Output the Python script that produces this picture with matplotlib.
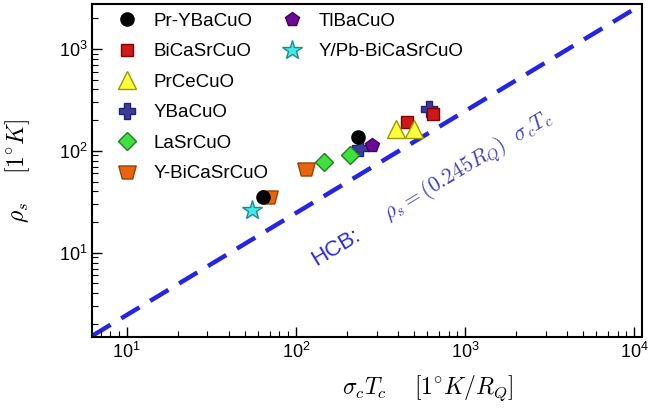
import numpy as np
import matplotlib
matplotlib.use("Agg")
import matplotlib.pyplot as plt
from matplotlib.lines import Line2D

plt.rcParams["font.family"] = ["Liberation Sans", "DejaVu Sans"]
plt.rcParams["mathtext.fontset"] = "cm"

# (sigma_c * Tc, rho_s)
ybco_x = [240, 610]
ybco_y = [106, 258]
bscco_x = [454, 647]
bscco_y = [194, 231]
prce_x = [391, 497]
prce_y = [163, 163]
ybscco_x = [69, 115]
ybscco_y = [35, 66]
prybco_x = [64, 233]
prybco_y = [35, 138]
lsco_x = [146, 208]
lsco_y = [78.5, 91.4]
tlba_x = [282]
tlba_y = [113]
ypb_x = [55]
ypb_y = [26]

hcb_coef = 0.245
xlim = (6.25, 11100)
ylim = (1.5, 2730)

trap = [(-1, 0.75), (1, 0.75), (0.6, -0.75), (-0.6, -0.75), (-1, 0.75)]

fig = plt.figure(figsize=(6.48, 4.11), dpi=100)
ax = fig.add_axes([0.1424, 0.1808, 0.8478, 0.8083])

# HCB line
xs = np.array(xlim)
ax.plot(xs, hcb_coef * xs, color="#2424e6", lw=3.2, dashes=(4.8, 2.8), zorder=1)

ms = 9.5
ax.plot(ybco_x, ybco_y, ls="none", marker="P", ms=ms + 2, mfc="#3b3b9e", mec="#22226e", zorder=3)
ax.plot(bscco_x, bscco_y, ls="none", marker="s", ms=ms - 0.5, mfc="#d01818", mec="#800000", zorder=4)
ax.plot(prce_x, prce_y, ls="none", marker="^", ms=ms + 3, mfc="#ffff40", mec="#9a9a00", zorder=5)
ax.plot(ybscco_x, ybscco_y, ls="none", marker=trap, ms=ms + 3, mfc="#e8650f", mec="#9a4000", zorder=3)
ax.plot(prybco_x, prybco_y, ls="none", marker="o", ms=ms, mfc="black", mec="black", zorder=4)
ax.plot(lsco_x, lsco_y, ls="none", marker="D", ms=ms - 0.5, mfc="#40e040", mec="#208020", zorder=5)
ax.plot(tlba_x, tlba_y, ls="none", marker="p", ms=ms + 1, mfc="#6a0a96", mec="#400060", zorder=5)
ax.plot(ypb_x, ypb_y, ls="none", marker="*", ms=ms + 5, mfc="#40e8e8", mec="#208a8a", zorder=6)

ax.set_xscale("log")
ax.set_yscale("log")
ax.set_xlim(*xlim)
ax.set_ylim(*ylim)

ax.tick_params(which="both", direction="in", top=False, right=False, labelsize=13)
ax.tick_params(which="major", length=7, width=1)
ax.tick_params(which="minor", length=4, width=0.8)
for s in ax.spines.values():
    s.set_linewidth(1.5)

ax.set_xlabel(r"$\sigma_c T_c \quad\ [1^{\circ}K/R_Q]$", fontsize=17)
ax.xaxis.set_label_coords(0.61, -0.11)
ax.set_ylabel(r"$\rho_s \quad\ [1^{\circ}K]$", fontsize=17)
ax.yaxis.set_label_coords(-0.11, 0.5)

ang = 31.1
ax.text(173, 11.2, "HCB:", color="#2a2ae0", fontsize=16, rotation=ang,
        ha="center", va="center", rotation_mode="anchor")
ax.text(1050, 70, r"$\rho_s = (0.245 R_Q)\ \ \sigma_c T_c$", color="#4242c0", fontsize=15.5,
        rotation=ang, ha="center", va="center", rotation_mode="anchor")

def h(marker, size, fc, ec):
    return Line2D([], [], ls="none", marker=marker, ms=size, mfc=fc, mec=ec)

blank = Line2D([], [], ls="none")
handles = [
    h("o", ms, "black", "black"),
    h("s", ms - 0.5, "#d01818", "#800000"),
    h("^", ms + 3, "#ffff40", "#9a9a00"),
    h("P", ms + 2, "#3b3b9e", "#22226e"),
    h("D", ms - 0.5, "#40e040", "#208020"),
    h(trap, ms + 3, "#e8650f", "#9a4000"),
    h("p", ms + 1, "#6a0a96", "#400060"),
    h("*", ms + 5, "#40e8e8", "#208a8a"),
    blank, blank, blank, blank,
]
labels = ["Pr-YBaCuO", "BiCaSrCuO", "PrCeCuO", "YBaCuO", "LaSrCuO", "Y-BiCaSrCuO",
          "TlBaCuO", "Y/Pb-BiCaSrCuO", "", "", "", ""]
ax.legend(handles, labels, ncol=2, loc="upper left", bbox_to_anchor=(0.045, 0.975),
          frameon=False, fontsize=13.5, borderpad=0, borderaxespad=0,
          handlelength=1.1, handletextpad=0.85, labelspacing=0.71, columnspacing=0.7)

fig.savefig("out.png", dpi=100)
